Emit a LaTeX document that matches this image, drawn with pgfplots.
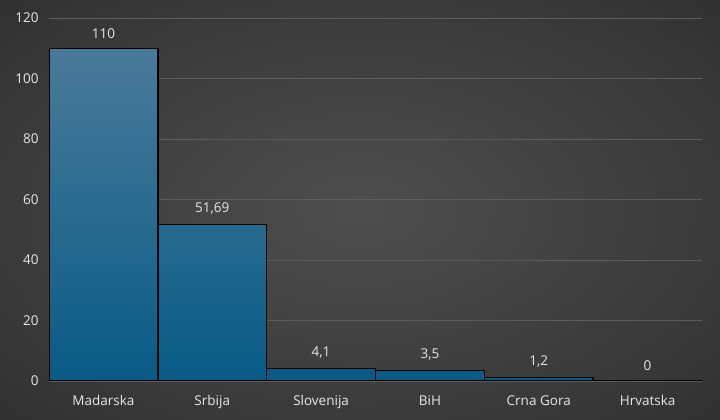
\documentclass[border=0pt]{standalone}
\usepackage{pgfplots}
\pgfplotsset{compat=1.18}
\usepackage{fontspec}
\setmainfont{Open Sans}
\definecolor{bgin}{HTML}{4E4E4E}
\definecolor{bgmid}{HTML}{3A3A3A}
\definecolor{bgout}{HTML}{242424}
\definecolor{bartop}{HTML}{4A7A9A}
\definecolor{barbot}{HTML}{085B86}
\definecolor{txt}{HTML}{E6E6E6}
\definecolor{gridc}{HTML}{5C5C5C}
\definecolor{basec}{HTML}{8C8C8C}
\pgfdeclareradialshading{bgshade}{\pgfpoint{0bp}{0bp}}{color(0bp)=(bgin); color(25bp)=(bgmid); color(50bp)=(bgout)}
\begin{document}
\begin{tikzpicture}
\useasboundingbox (0,0) rectangle (720bp,420bp);
\fill[shading=bgshade] (0,0) rectangle (720bp,420bp);
\begin{axis}[
  at={(49bp,39bp)}, anchor=south west,
  scale only axis, width=653bp, height=363bp,
  xmin=-0.5, xmax=5.5, ymin=0, ymax=120,
  ytick={0,20,...,120},
  xtick=data,
  xticklabels={Madarska,Srbija,Slovenija,BiH,Crna Gora,Hrvatska},
  ybar, bar width=1,
  axis line style={draw=none},
  major tick length=0pt,
  ymajorgrids, grid style={gridc, line width=0.8bp},
  font=\fontsize{13.5bp}{16bp}\selectfont,
  tick label style={text=txt},
  /pgf/number format/assume math mode=true,
  yticklabel style={xshift=-7bp},
  xticklabel style={yshift=-11bp},
  point meta=explicit symbolic,
  nodes near coords,
  every node near coord/.append style={text=txt, anchor=south, yshift=6bp, font=\fontsize{13.5bp}{16bp}\selectfont},
]
\addplot[draw=black, line width=1.4bp, top color=bartop, bottom color=barbot] coordinates {
 (0,110) [110]
 (1,51.69) [{51,69}]
 (2,4.1) [{4,1}]
 (3,3.5) [{3,5}]
 (4,1.2) [{1,2}]
 (5,0) [0]
};
\draw[basec, line width=1bp] (axis cs:-0.5,0) -- (axis cs:5.5,0);
\end{axis}
\end{tikzpicture}
\end{document}
